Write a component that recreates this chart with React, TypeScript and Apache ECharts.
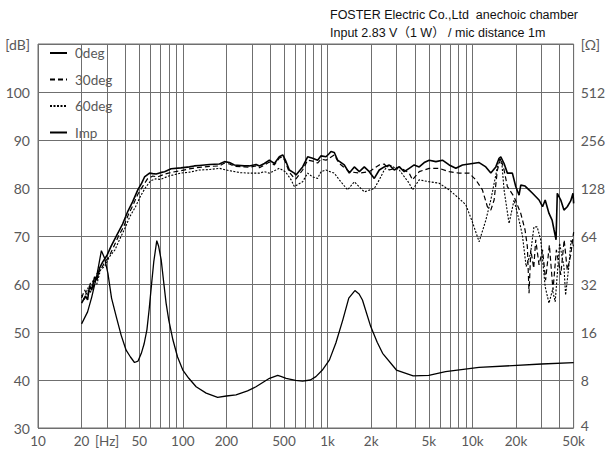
import React, { useEffect, useRef } from 'react';
import * as echarts from 'echarts';

// [frequency Hz, SPL dB]
const deg0: [number, number][] = [
  [20, 56.0], [21.3, 57.5], [22, 56.7], [22.7, 59.6], [23.5, 58.75], [24.6, 61.5], [25.5, 60.8], [26.6, 63.3], [28, 64.6], [30, 66.0],
  [32, 67.9], [35.6, 70.6], [38.4, 72.5], [41.8, 75.2], [45, 77.1], [48.9, 79.6], [52, 81.0], [54.4, 82.3], [58.9, 83.1], [62, 83.0],
  [65.5, 82.9], [70, 83.2], [74.8, 83.4], [83, 84.0], [97, 84.2], [111, 84.4], [120, 84.6], [130, 84.7], [153, 84.9], [179, 85.0],
  [194, 85.5], [210, 85.3], [227, 84.8], [266, 84.6], [288, 84.6], [321, 84.9], [338, 84.6], [366, 85.1], [396, 85.8], [429, 85.1],
  [464, 86.5], [490, 86.9], [511, 85.8], [544, 83.75], [589, 83.1], [605, 82.7], [672, 84.4], [728, 86.5], [788, 86.2], [853, 85.8],
  [901, 86.7], [975, 86.5], [1027, 87.2], [1055, 87.6], [1112, 87.4], [1172, 85.8], [1304, 84.8], [1412, 83.1], [1529, 84.4], [1656, 83.4],
  [1792, 84.4], [1939, 83.4], [2100, 82.0], [2273, 83.75], [2461, 84.4], [2665, 84.8], [2885, 83.75], [3123, 84.4], [3381, 83.4], [3660, 84.1],
  [3962, 84.8], [4290, 84.4], [4645, 85.3], [5026, 85.8], [5593, 85.5], [6209, 85.8], [6909, 84.8], [7681, 84.1], [8535, 84.8], [9491, 85.0],
  [11122, 85.3], [12373, 84.4], [13395, 83.1], [14503, 84.4], [15279, 86.2], [15700, 86.5], [16543, 85.1], [17433, 83.1], [18874, 83.1], [19918, 80.3],
  [20990, 78.5], [21570, 80.6], [23096, 80.4], [24604, 79.6], [26000, 78.9], [28840, 77.5], [30500, 76.1], [31800, 77.5], [33800, 74.7], [35500, 73.3],
  [36600, 71.3], [37800, 69.2], [38550, 78.9], [40740, 77.5], [42860, 75.4], [45190, 76.1], [47710, 77.3], [49490, 78.9], [50000, 76.8],
];

const deg30: [number, number][] = [
  [20, 57.1], [21, 58.75], [22, 57.5], [23, 60.2], [24, 59.2], [25.5, 62.1], [27, 62.9], [29, 64.6], [31, 65.8], [33, 67.5],
  [36, 70.0], [39, 71.9], [42, 74.4], [45, 76.25], [49, 78.75], [53, 80.4], [57, 81.9], [62, 82.5], [67, 82.3], [75, 82.9],
  [85, 83.3], [97, 83.6], [111, 84.0], [130, 84.3], [153, 84.5], [179, 84.6], [194, 85.2], [210, 85.0], [227, 84.5], [266, 84.4],
  [288, 84.3], [321, 84.6], [338, 84.2], [366, 84.8], [396, 85.4], [429, 84.8], [464, 86.25], [490, 86.5], [511, 85.4], [544, 83.3],
  [589, 82.0], [605, 81.9], [672, 83.75], [728, 85.8], [788, 85.6], [853, 85.2], [901, 86.0], [975, 85.8], [1027, 86.2], [1112, 86.9],
  [1205, 85.1], [1412, 83.4], [1656, 83.1], [1939, 83.4], [2273, 84.8], [2461, 85.0], [2665, 83.75], [3123, 84.4], [3660, 83.1], [3857, 81.7],
  [4290, 83.4], [5026, 84.1], [5891, 84.1], [6909, 83.4], [8095, 83.1], [9491, 83.1], [10557, 81.7], [11722, 79.6], [12690, 76.1], [13395, 75.4],
  [14116, 77.5], [14875, 83.75], [15700, 86.2], [16543, 83.75], [17433, 80.3], [19388, 78.2], [21570, 74.7], [23096, 71.25], [23955, 67.8], [24604, 58.1],
  [25300, 67.1], [26500, 63.3], [27365, 69.2], [28840, 64.0], [30500, 67.1], [32000, 60.8], [34000, 68.1], [36000, 58.75], [38000, 67.1], [40740, 61.9],
  [43000, 69.2], [45190, 62.9], [47710, 66.0], [50000, 70.8],
];

const deg60: [number, number][] = [
  [20, 57.7], [21, 56.7], [22, 59.2], [23, 58.1], [24, 60.8], [25.5, 60.0], [27, 62.9], [29, 63.75], [31, 65.6], [34, 67.1],
  [37, 69.6], [40, 71.7], [43, 74.0], [47, 76.0], [51, 78.3], [55, 80.0], [60, 81.5], [65, 81.9], [70, 81.8], [80, 82.5],
  [97, 83.1], [111, 83.3], [130, 83.75], [153, 83.85], [179, 84.1], [210, 83.6], [250, 83.2], [288, 83.1], [338, 83.1], [366, 83.4],
  [396, 83.1], [464, 84.1], [511, 83.4], [560, 81.7], [589, 80.3], [630, 80.8], [672, 81.3], [728, 83.1], [788, 82.3], [853, 82.0],
  [901, 83.4], [975, 83.75], [1055, 83.3], [1112, 83.1], [1205, 81.7], [1374, 79.6], [1529, 81.3], [1792, 79.2], [2100, 79.9], [2273, 81.7],
  [2461, 83.75], [2665, 84.8], [3123, 83.75], [3660, 81.0], [3857, 79.6], [4290, 81.7], [5026, 81.3], [5891, 81.0], [6909, 79.6], [8095, 77.8],
  [9007, 76.5], [10000, 72.9], [11122, 68.8], [12373, 73.3], [13395, 77.5], [14503, 82.7], [15279, 86.2], [16000, 84.8], [16543, 79.6], [17906, 72.6],
  [19388, 77.5], [20990, 73.3], [22125, 70.2], [23500, 63.6], [25200, 66.4], [26600, 71.9], [28000, 71.9], [29630, 69.2], [31800, 59.4], [33800, 56.0],
  [35700, 58.75], [37300, 56.3], [40000, 68.5], [42860, 63.6], [44000, 57.7], [46300, 63.6], [48000, 69.2], [50000, 67.8],
];

// [frequency Hz, impedance Ω]
const imp: [number, number][] = [
  [20, 18], [22, 21.4], [23.5, 26.5], [25.5, 36.4], [27.4, 51.8], [28.8, 46.6], [30.4, 37.3], [32.2, 26.1], [34.7, 20], [37.5, 15.3],
  [40.6, 12.3], [43.5, 11.15], [46.4, 10.3], [49, 10.5], [51.7, 11.76], [54, 13.45], [56.5, 16.5], [58.5, 22.0], [60.6, 30.8], [63, 44.0],
  [66.1, 59.8], [68, 55.4], [70.9, 45.3], [73.5, 33.9], [76.7, 24.2], [80, 19.0], [85.5, 14.25], [92, 11.15], [100, 9.24], [110, 8.2],
  [123.6, 7.26], [145, 6.62], [174, 6.23], [200, 6.35], [233, 6.46], [280, 6.83], [320, 7.26], [397, 8.2], [452, 8.55], [475, 8.42],
  [517, 8.2], [600, 7.96], [672, 7.86], [760, 8.0], [830, 8.4], [920, 9.24], [1030, 10.7], [1140, 13.65], [1272, 19.0], [1400, 26.1],
  [1543, 29.1], [1650, 27.7], [1740, 25.4], [1985, 17.3], [2200, 13.8], [2398, 11.76], [2986, 9.24], [3900, 8.5], [5000, 8.55], [6520, 9.02],
  [11100, 9.6], [18900, 9.85], [30000, 10.08], [50000, 10.27],
];

const xGridValues = [
  10, 20, 30, 40, 50, 60, 70, 80, 90,
  100, 200, 300, 400, 500, 600, 700, 800, 900,
  1000, 2000, 3000, 4000, 5000, 6000, 7000, 8000, 9000,
  10000, 20000, 30000, 40000, 50000,
];
const xLabelValues = [10, 20, 30, 50, 100, 200, 500, 1000, 2000, 5000, 10000, 20000, 50000];
const xLabelTexts = ['10', '20', '[Hz]', '50', '100', '200', '500', '1k', '2k', '5k', '10k', '20k', '50k'];
const ohmTicks = [4, 8, 16, 32, 64, 128, 256, 512, 1024];
const headerLines = ['FOSTER Electric Co.,Ltd  anechoic chamber', 'Input 2.83 V（1 W） / mic distance 1m'];

const GRID = '#6f6f6f';
const LABEL = '#595959';
const FONT = 'Lato, "Noto Sans", sans-serif';

function xLabel(v: number): string {
  const i = xLabelValues.findIndex((x) => Math.abs(x - v) / x < 1e-6);
  return i >= 0 ? xLabelTexts[i] : '';
}

function ohmLabel(v: number): string {
  if (Math.abs(v - 1024) < 1e-6) return '[Ω]';
  if (Math.abs(v - 4) < 1e-6) return '{low|4}';
  return String(Math.round(v));
}

export default function App() {
  const ref = useRef<HTMLDivElement>(null);
  useEffect(() => {
    if (!ref.current) return;
    const chart = echarts.init(ref.current, null, { renderer: 'svg' });
    chart.setOption({
      animation: false,
      backgroundColor: '#ffffff',
      title: {
        left: 330,
        top: 6,
        text: headerLines.join('\n'),
        textStyle: {
          fontFamily: '"Liberation Sans", Arial, "Noto Sans CJK JP", sans-serif',
          fontSize: 12.5,
          fontWeight: 'normal',
          color: '#111',
          lineHeight: 18,
        },
        padding: 0,
      },
      legend: {
        orient: 'vertical',
        left: 49,
        top: 46,
        itemWidth: 17,
        itemHeight: 14,
        itemGap: 12.5,
        data: ['0deg', '30deg', '60deg', 'Imp'],
        itemStyle: { color: 'rgba(0,0,0,0)', borderWidth: 0, opacity: 0 },
        textStyle: { color: LABEL, fontFamily: FONT, fontSize: 13.5, padding: [0, 0, 0, 3] },
        padding: 0,
      },
      grid: {
        left: 38,
        right: 33,
        top: 44,
        bottom: 22,
        show: true,
        borderColor: GRID,
        borderWidth: 1,
        containLabel: false,
      },
      xAxis: {
        type: 'log',
        logBase: 10,
        min: 10,
        max: 50000,
        axisLine: { show: false },
        axisTick: { show: false, customValues: xGridValues },
        axisLabel: {
          customValues: xLabelValues,
          formatter: (v: number) => xLabel(v),
          color: LABEL,
          fontFamily: FONT,
          fontSize: 13.5,
          margin: 6,
          showMinLabel: true,
          showMaxLabel: true,
        },
        splitLine: { show: true, lineStyle: { color: GRID, width: 1 } },
      },
      yAxis: [
        {
          type: 'value',
          min: 30,
          max: 110,
          interval: 10,
          axisLine: { show: false },
          axisTick: { show: false },
          axisLabel: {
            formatter: (v: number) => (v === 110 ? '[dB]' : String(v)),
            color: LABEL,
            fontFamily: FONT,
            fontSize: 14,
            margin: 8,
          },
          splitLine: { show: true, lineStyle: { color: GRID, width: 1 } },
        },
        {
          type: 'log',
          logBase: 2,
          min: 4,
          max: 1024,
          position: 'right',
          axisLine: { show: false },
          axisTick: { show: false, customValues: ohmTicks },
          axisLabel: {
            customValues: ohmTicks,
            formatter: (v: number) => ohmLabel(v),
            color: LABEL,
            fontFamily: FONT,
            fontSize: 14,
            margin: 7,
            rich: {
              low: { color: LABEL, fontFamily: FONT, fontSize: 14, padding: [0, 0, 5, 0] },
            },
          },
          splitLine: { show: false },
        },
      ],
      series: [
        {
          name: '0deg',
          type: 'line',
          data: deg0,
          symbol: 'none',
          showSymbol: false,
          lineStyle: { color: '#000', width: 1.6, type: 'solid' },
          itemStyle: { color: '#000' },
          z: 5,
        },
        {
          name: '30deg',
          type: 'line',
          data: deg30,
          symbol: 'none',
          showSymbol: false,
          lineStyle: { color: '#000', width: 1.2, type: [5, 3] },
          itemStyle: { color: '#000' },
          z: 4,
        },
        {
          name: '60deg',
          type: 'line',
          data: deg60,
          symbol: 'none',
          showSymbol: false,
          lineStyle: { color: '#000', width: 1.1, type: [2, 1.5] },
          itemStyle: { color: '#000' },
          z: 3,
        },
        {
          name: 'Imp',
          type: 'line',
          yAxisIndex: 1,
          data: imp,
          symbol: 'none',
          showSymbol: false,
          lineStyle: { color: '#000', width: 1.3, type: 'solid' },
          itemStyle: { color: '#000' },
          z: 3,
        },
      ],
    });
    return () => chart.dispose();
  }, []);
  return (
    <div
      ref={ref}
      style={{ position: 'fixed', left: 0, top: 0, width: 608, height: 450, background: '#fff' }}
    />
  );
}
